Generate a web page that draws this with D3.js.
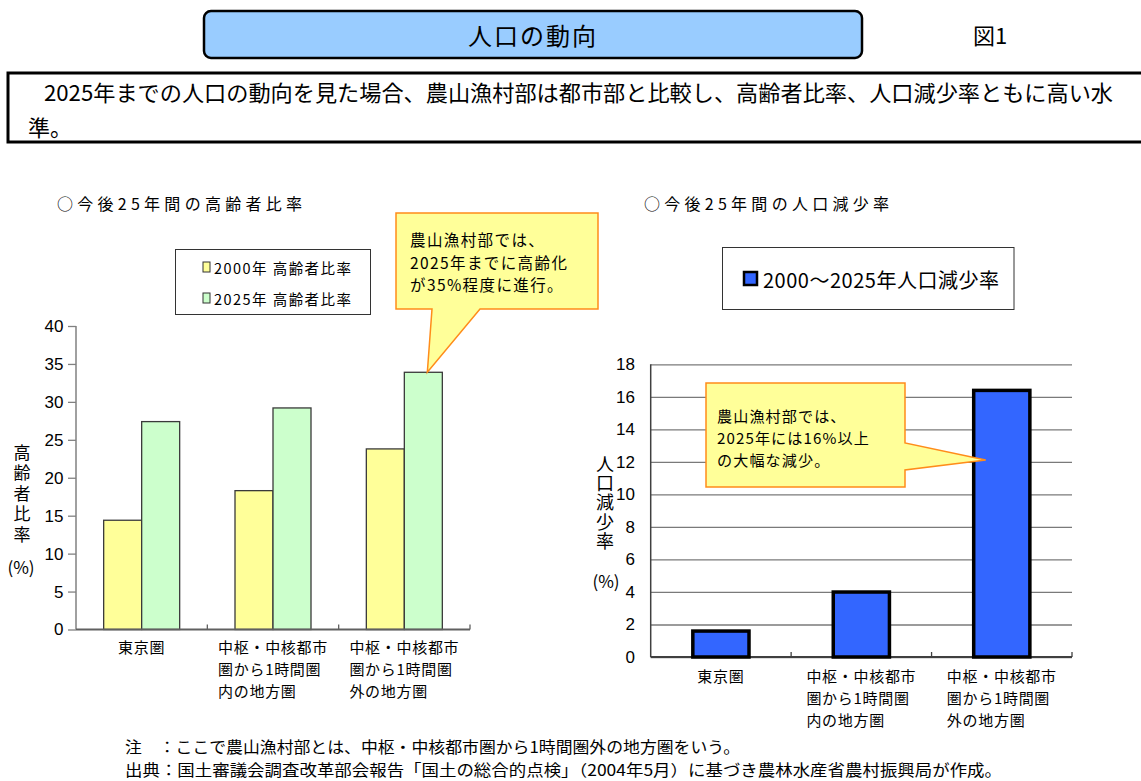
<!DOCTYPE html>
<html><head><meta charset="utf-8">
<script src="https://cdn.jsdelivr.net/npm/d3@7"></script>
<style>
html,body{margin:0;padding:0;background:#fff;}
svg{display:block;}
text{font-family:"Noto Sans CJK JP","Noto Sans",sans-serif;fill:#000;}
.num{font-family:"Liberation Sans",Arial,sans-serif;}
.vert{writing-mode:vertical-rl;text-orientation:upright;}
</style></head>
<body>
<svg id="chart" width="1141" height="781"></svg>
<script>
// ---- data ----
const categories = ["東京圏", "中枢・中核都市圏から1時間圏内の地方圏", "中枢・中核都市圏から1時間圏外の地方圏"];
const categoryLines = [["東京圏"], ["中枢・中核都市", "圏から1時間圏", "内の地方圏"], ["中枢・中核都市", "圏から1時間圏", "外の地方圏"]];
const agingSeries = ["2000年 高齢者比率", "2025年 高齢者比率"];
const aging2000 = [14.4, 18.3, 23.8];
const aging2025 = [27.4, 29.2, 33.9];
const declineSeries = ["2000～2025年人口減少率"];
const decline = [1.7, 4.1, 16.5];
const agingTicks = [0, 5, 10, 15, 20, 25, 30, 35, 40];
const declineTicks = [0, 2, 4, 6, 8, 10, 12, 14, 16, 18];
const agingColors = ["#FFFF99", "#CCFFCC"];
const declineColor = "#3366FF";

const svg = d3.select("#chart");

// ---- header ----
svg.append("rect").attr("x", 204).attr("y", 11).attr("width", 658).attr("height", 47)
  .attr("rx", 7).attr("fill", "#99CCFF").attr("stroke", "#000").attr("stroke-width", 2.5);
svg.append("text").attr("x", 533).attr("y", 34).attr("text-anchor", "middle")
  .attr("dominant-baseline", "central").style("font-size", "24px").style("letter-spacing", "2px").text("人口の動向");
svg.append("text").attr("x", 990).attr("y", 34).attr("text-anchor", "middle")
  .attr("dominant-baseline", "central").style("font-size", "22px").text("図1");

svg.append("rect").attr("x", 8).attr("y", 73).attr("width", 1145).attr("height", 69)
  .attr("fill", "none").attr("stroke", "#000").attr("stroke-width", 3);
svg.append("text").attr("x", 44).attr("y", 91).attr("dominant-baseline", "central")
  .style("font-size", "22px").attr("textLength", 1069).attr("lengthAdjust", "spacingAndGlyphs")
  .text("2025年までの人口の動向を見た場合、農山漁村部は都市部と比較し、高齢者比率、人口減少率ともに高い水");
svg.append("text").attr("x", 28).attr("y", 126).attr("dominant-baseline", "central")
  .style("font-size", "22px").text("準。");

// ---- left chart: aging ratio ----
const yL = d3.scaleLinear().domain([0, 40]).range([629.5, 326]);
const xL = d3.scaleBand().domain(categories).range([76, 470]);
const groupW = 76;
const xLs = d3.scaleBand().domain(agingSeries).range([0, groupW]);

svg.append("text").attr("x", 57).attr("y", 203).attr("dominant-baseline", "central")
  .style("font-size", "16px").attr("textLength", 245).attr("lengthAdjust", "spacing")
  .text("○今後25年間の高齢者比率");

const gL = svg.append("g");
const leftBars = [];
categories.forEach((c, i) => {
  leftBars.push({c, s: agingSeries[0], v: aging2000[i], col: agingColors[0]});
  leftBars.push({c, s: agingSeries[1], v: aging2025[i], col: agingColors[1]});
});
gL.selectAll("rect.bar").data(leftBars).join("rect").attr("class", "bar")
  .attr("x", d => xL(d.c) + xL.bandwidth() / 2 - groupW / 2 + xLs(d.s))
  .attr("width", xLs.bandwidth())
  .attr("y", d => yL(d.v)).attr("height", d => yL(0) - yL(d.v))
  .attr("fill", d => d.col).attr("stroke", "#3a3a3a").attr("stroke-width", 1.3);

const axL = svg.append("g").attr("transform", `translate(76,0)`)
  .call(d3.axisLeft(yL).tickValues(agingTicks).tickSize(8).tickPadding(4.5));
axL.select(".domain").attr("stroke", "#808080").attr("stroke-width", 1.5).attr("d", `M0,${yL(40)}V${yL(0)}`);
axL.selectAll(".tick line").attr("stroke", "#808080").attr("stroke-width", 1.3);
axL.selectAll(".tick text").attr("class", "num").style("font-size", "17px").attr("fill", "#000");

svg.append("line").attr("x1", 76).attr("x2", 470).attr("y1", yL(0)).attr("y2", yL(0))
  .attr("stroke", "#606060").attr("stroke-width", 1.8);
svg.selectAll("line.catL").data(categories).join("line").attr("class", "catL")
  .attr("x1", d => xL(d) + xL.bandwidth()).attr("x2", d => xL(d) + xL.bandwidth())
  .attr("y1", yL(0)).attr("y2", yL(0) - 5).attr("stroke", "#606060").attr("stroke-width", 1.3);

// y label (vertical)
svg.append("text").attr("class", "vert").attr("x", 22).attr("y", 444)
  .style("font-size", "17px").style("letter-spacing", "3.5px").text("高齢者比率");
svg.append("text").attr("x", 21).attr("y", 566).attr("text-anchor", "middle")
  .attr("dominant-baseline", "central").style("font-size", "17px").text("(%)");

function catLabels(xs, y0, dy, cls) {
  categoryLines.forEach((lines, i) => {
    const cx = xs(categories[i]) + xs.bandwidth() / 2;
    const t = svg.append("text").attr("class", cls).attr("y", y0)
      .attr("dominant-baseline", "central").style("font-size", "15px").style("letter-spacing", "0.7px");
    t.selectAll("tspan").data(lines).join("tspan")
      .attr("dy", (d, j) => j === 0 ? 0 : dy).text(d => d);
    let w = 0;
    t.selectAll("tspan").each(function () { w = Math.max(w, this.getComputedTextLength()); });
    t.selectAll("tspan").attr("x", cx - w / 2);
  });
}
catLabels(xL, 646, 21.8, "catlabL");

// legend left
svg.append("rect").attr("x", 175.5).attr("y", 249.5).attr("width", 195).attr("height", 65)
  .attr("fill", "#fff").attr("stroke", "#333").attr("stroke-width", 1);
const legL = svg.selectAll("g.legL").data(agingSeries).join("g").attr("class", "legL")
  .attr("transform", (d, i) => `translate(203,${267 + i * 31})`);
legL.append("rect").attr("x", 0).attr("y", -5).attr("width", 7).attr("height", 10)
  .attr("fill", (d, i) => agingColors[i]).attr("stroke", "#333").attr("stroke-width", 1);
legL.append("text").attr("x", 11).attr("y", 0).attr("dominant-baseline", "central")
  .style("font-size", "14.5px").attr("textLength", 137).attr("lengthAdjust", "spacing").text(d => d);

// callout left
const tipLx = xL(categories[2]) + xL.bandwidth() / 2 - groupW / 2 + xLs(agingSeries[1]) + 23;
const tipLy = yL(aging2025[2]);
svg.append("path")
  .attr("d", `M396,213H598V309H480L${tipLx},${tipLy}L432,309H396Z`)
  .attr("fill", "#FFFF99").attr("stroke", "#FF8C1A").attr("stroke-width", 1.5);
const cL = svg.append("text").attr("y", 239).attr("dominant-baseline", "central")
  .style("font-size", "15.5px").style("letter-spacing", "1.4px");
cL.selectAll("tspan").data(["農山漁村部では、", "2025年までに高齢化", "が35%程度に進行。"]).join("tspan")
  .attr("x", 410).attr("dy", (d, i) => i === 0 ? 0 : 22.5).text(d => d);

// ---- right chart: population decline ----
const yR = d3.scaleLinear().domain([0, 18]).range([657, 364.3]);
const xR = d3.scaleBand().domain(categories).range([650.7, 1072]);

svg.append("text").attr("x", 644).attr("y", 203).attr("dominant-baseline", "central")
  .style("font-size", "16px").attr("textLength", 245).attr("lengthAdjust", "spacing")
  .text("○今後25年間の人口減少率");

const axR = svg.append("g").attr("transform", `translate(650.7,0)`)
  .call(d3.axisLeft(yR).tickValues(declineTicks).tickSize(-(1072 - 650.7)).tickPadding(15.7));
axR.select(".domain").remove();
axR.selectAll(".tick line").attr("stroke", "#7a7a7a").attr("stroke-width", 1.3);
axR.selectAll(".tick text").attr("class", "num").style("font-size", "17px").attr("fill", "#000");
svg.append("line").attr("x1", 650.7).attr("x2", 650.7).attr("y1", yR(18)).attr("y2", yR(0))
  .attr("stroke", "#404040").attr("stroke-width", 1.5);
svg.append("line").attr("x1", 650.7).attr("x2", 1072).attr("y1", yR(0)).attr("y2", yR(0))
  .attr("stroke", "#404040").attr("stroke-width", 1.8);
svg.selectAll("line.catR").data(categories).join("line").attr("class", "catR")
  .attr("x1", d => xR(d) + xR.bandwidth()).attr("x2", d => xR(d) + xR.bandwidth())
  .attr("y1", yR(0)).attr("y2", yR(0) - 5).attr("stroke", "#404040").attr("stroke-width", 1.3);

const barWR = xR.bandwidth() * 0.4;
svg.selectAll("rect.barR").data(categories).join("rect").attr("class", "barR")
  .attr("x", d => xR(d) + xR.bandwidth() / 2 - barWR / 2).attr("width", barWR)
  .attr("y", (d, i) => yR(decline[i]) + 1.7).attr("height", (d, i) => yR(0) - yR(decline[i]) - 1.7)
  .attr("fill", declineColor).attr("stroke", "#000").attr("stroke-width", 3.5);

// y label right (vertical)
svg.append("text").attr("class", "vert").attr("x", 605).attr("y", 455)
  .style("font-size", "18px").style("letter-spacing", "1.3px").text("人口減少率");
svg.append("text").attr("x", 606).attr("y", 580).attr("text-anchor", "middle")
  .attr("dominant-baseline", "central").style("font-size", "17px").text("(%)");

catLabels(xR, 675, 21.8, "catlabR");

// legend right
svg.append("rect").attr("x", 722.5).attr("y", 247.5).attr("width", 291.5).attr("height", 62)
  .attr("fill", "#fff").attr("stroke", "#333").attr("stroke-width", 1);
const legR = svg.selectAll("g.legR").data(declineSeries).join("g").attr("class", "legR")
  .attr("transform", "translate(744,279)");
legR.append("rect").attr("x", 0).attr("y", -7).attr("width", 13).attr("height", 13)
  .attr("fill", declineColor).attr("stroke", "#000").attr("stroke-width", 2.5);
legR.append("text").attr("x", 19).attr("y", 0).attr("dominant-baseline", "central")
  .style("font-size", "20px").attr("textLength", 236).attr("lengthAdjust", "spacing").text(d => d);

// callout right
const tipRx = xR(categories[2]) + xR.bandwidth() / 2 - barWR / 2 + 12;
const tipRy = 460;
svg.append("path")
  .attr("d", `M706,383H905V443L${tipRx},${tipRy}L905,470V487H706Z`)
  .attr("fill", "#FFFF99").attr("stroke", "#FF8C1A").attr("stroke-width", 1.5);
const cR = svg.append("text").attr("y", 415).attr("dominant-baseline", "central")
  .style("font-size", "15.1px").style("letter-spacing", "1.1px");
cR.selectAll("tspan").data(["農山漁村部では、", "2025年には16%以上", "の大幅な減少。"]).join("tspan")
  .attr("x", 717).attr("dy", (d, i) => i === 0 ? 0 : 22).text(d => d);

// ---- footnotes ----
svg.append("text").attr("x", 125).attr("y", 746).attr("dominant-baseline", "central")
  .style("font-size", "15.5px").attr("textLength", 615).attr("lengthAdjust", "spacingAndGlyphs")
  .text("注　：ここで農山漁村部とは、中枢・中核都市圏から1時間圏外の地方圏をいう。");
svg.append("text").attr("x", 125).attr("y", 769).attr("dominant-baseline", "central")
  .style("font-size", "15.5px").attr("textLength", 877).attr("lengthAdjust", "spacingAndGlyphs")
  .text("出典：国土審議会調査改革部会報告「国土の総合的点検」（2004年5月）に基づき農林水産省農村振興局が作成。");
</script>
</body></html>
